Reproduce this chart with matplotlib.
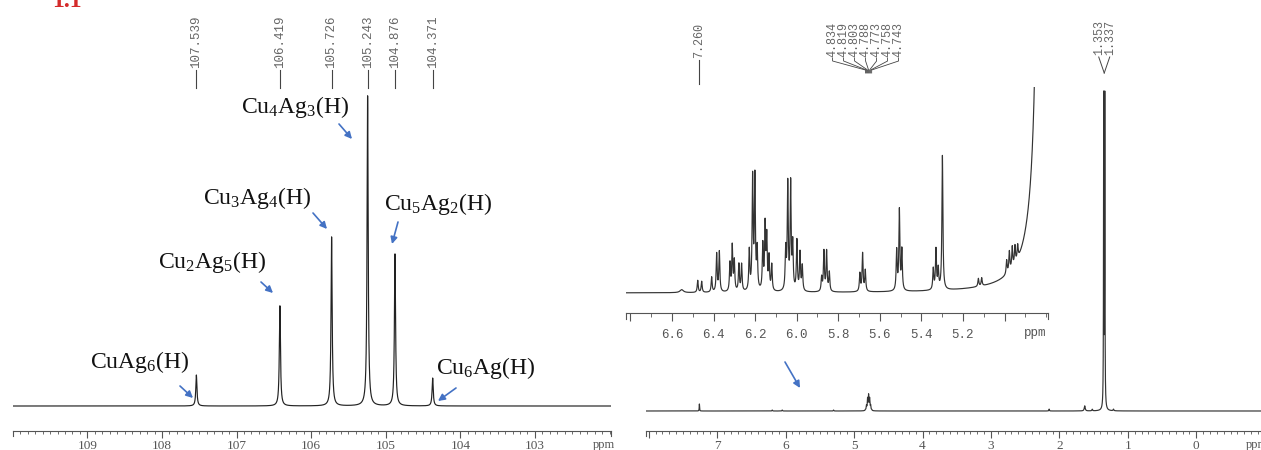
import numpy as np
import matplotlib
matplotlib.use("Agg")
import matplotlib.pyplot as plt
from matplotlib.ticker import FixedLocator, FixedFormatter, MultipleLocator
import matplotlib.transforms as mtrans

plt.rcParams['mathtext.fontset'] = 'custom'
plt.rcParams['mathtext.rm'] = 'Liberation Serif'
plt.rcParams['mathtext.it'] = 'Liberation Serif:italic'
plt.rcParams['mathtext.bf'] = 'Liberation Serif:bold'

# ------------------------------------------------------------------ data
panel_tag = "1.1"

# left spectrum (ppm, relative intensity)
left_ppm = [107.539, 106.419, 105.726, 105.243, 104.876, 104.371]
left_height = [10.0, 32.3, 54.5, 100.0, 49.0, 9.0]
left_hwhm = [0.009, 0.009, 0.009, 0.009, 0.009, 0.009]
left_peak_labels = ["107.539", "106.419", "105.726", "105.243", "104.876", "104.371"]
left_species = [r"CuAg$_{\mathrm{6}}$(H)", r"Cu$_{\mathrm{2}}$Ag$_{\mathrm{5}}$(H)",
                r"Cu$_{\mathrm{3}}$Ag$_{\mathrm{4}}$(H)", r"Cu$_{\mathrm{4}}$Ag$_{\mathrm{3}}$(H)",
                r"Cu$_{\mathrm{5}}$Ag$_{\mathrm{2}}$(H)", r"Cu$_{\mathrm{6}}$Ag(H)"]
left_ticks = [109, 108, 107, 106, 105, 104, 103]
left_tick_labels = ["109", "108", "107", "106", "105", "104", "103"]

# right spectrum, full range (ppm, relative intensity)
right_ppm = [7.260, 6.196, 6.050, 5.300,
             4.834, 4.819, 4.803, 4.788, 4.773, 4.758, 4.743,
             2.150, 1.630, 1.520, 1.353, 1.337, 1.210]
right_height = [2.2, 0.3, 0.3, 0.3,
                0.25, 1.5, 3.6, 4.6, 3.6, 1.5, 0.25,
                0.6, 1.6, 0.5, 97.0, 97.0, 0.5]
right_hwhm = [0.003, 0.004, 0.004, 0.004,
              0.005, 0.005, 0.005, 0.005, 0.005, 0.005, 0.005,
              0.004, 0.008, 0.006, 0.003, 0.003, 0.006]
right_ticks = [8, 7, 6, 5, 4, 3, 2, 1, 0]
right_tick_labels = ["", "7", "6", "5", "4", "3", "2", "1", "0"]
septet_labels = ["4.834", "4.819", "4.803", "4.788", "4.773", "4.758", "4.743"]
septet_ppm = [4.834, 4.819, 4.803, 4.788, 4.773, 4.758, 4.743]
doublet_labels = ["1.353", "1.337"]
doublet_ppm = [1.353, 1.337]
single_label = "7.260"
single_ppm = 7.260

# inset (expanded 4.8 - 6.8 ppm region), intensity in inset units
inset_ppm = [6.553, 6.476, 6.457, 6.409, 6.385, 6.372,
             6.321, 6.310, 6.300, 6.278, 6.265,
             6.228, 6.212, 6.201, 6.190,
             6.163, 6.152, 6.144, 6.133, 6.120,
             6.053, 6.043, 6.029, 6.019, 5.999, 5.984, 5.973,
             5.880, 5.869, 5.856, 5.843,
             5.696, 5.683, 5.670,
             5.519, 5.506, 5.494,
             5.343, 5.330, 5.319, 5.299,
             5.126, 5.110,
             4.990, 4.977, 4.963, 4.950, 4.937,
             4.834, 4.819, 4.803, 4.788, 4.773, 4.758, 4.743]
inset_height = [3, 12, 11, 15, 38, 40,
                28, 45, 30, 27, 27,
                40, 112, 112, 40,
                45, 64, 52, 33, 26,
                40, 106, 106, 45, 50, 38, 25,
                14, 40, 40, 19,
                18, 38, 21,
                40, 80, 40,
                21, 40, 20, 134,
                8, 8,
                14, 20, 21, 18, 14,
                1440, 8640, 21600, 28800, 21600, 8640, 1440]
inset_hwhm = [0.010] + [0.0028] * 54
inset_ticks = [6.8, 6.6, 6.4, 6.2, 6.0, 5.8, 5.6, 5.4, 5.2, 5.0]
inset_tick_labels = ["", "6.6", "6.4", "6.2", "6.0", "5.8", "5.6", "5.4", "5.2", ""]

# ------------------------------------------------------------------ helpers
W, H = 1261, 450
fig = plt.figure(figsize=(W / 100, H / 100), dpi=100)


def px_axes(x0, y0, x1, y1, **kw):
    return fig.add_axes([x0 / W, 1 - y1 / H, (x1 - x0) / W, (y1 - y0) / H], **kw)


def lorentz(x, centers, heights, widths):
    y = np.zeros_like(x)
    for c, h, w in zip(centers, heights, widths):
        y += h * w ** 2 / ((x - c) ** 2 + w ** 2)
    return y


RULER = '#555555'
LABEL = '#555555'


def ruler(ax, ticks, labels, minor_step, family, size, pad, majlen=5, minlen=2.5):
    for s in ['top', 'left', 'right']:
        ax.spines[s].set_visible(False)
    ax.spines['bottom'].set_color(RULER)
    ax.spines['bottom'].set_linewidth(0.8)
    ax.yaxis.set_visible(False)
    ax.set_facecolor('none')
    ax.xaxis.set_major_locator(FixedLocator(ticks))
    ax.xaxis.set_major_formatter(FixedFormatter(labels))
    ax.xaxis.set_minor_locator(MultipleLocator(minor_step))
    ax.tick_params(axis='x', which='major', direction='out', length=majlen, width=0.8,
                   color=RULER, labelsize=size, labelcolor=LABEL, pad=pad,
                   labelfontfamily=family)
    ax.tick_params(axis='x', which='minor', direction='out', length=minlen, width=0.6,
                   color=RULER)


# ------------------------------------------------------------------ axes
ax_l = px_axes(12.8, 60, 611, 431)
ax_r = px_axes(646, 60, 1262, 431)
ax_i = px_axes(626, 87, 1048, 313)
ov = fig.add_axes([0, 0, 1, 1], zorder=10)
ov.set_xlim(0, W)
ov.set_ylim(H, 0)
ov.axis('off')
ov.patch.set_alpha(0)

# left spectrum
xl = np.linspace(110.0, 101.98, 16041)
ax_l.plot(xl, lorentz(xl, left_ppm, left_height, left_hwhm), color='#222222', lw=0.85)
ax_l.set_xlim(110.0, 101.98)
ax_l.set_ylim(-8.06, 111.6)
ruler(ax_l, left_ticks, left_tick_labels, 0.1, 'Liberation Serif', 9.5, 1.8)

# right spectrum
xr = np.linspace(8.04, -0.96, 36001)
ax_r.plot(xr, lorentz(xr, right_ppm, right_height, right_hwhm), color='#333333', lw=0.85)
ax_r.set_xlim(8.04, -0.96)
ax_r.set_ylim(-6.27, 110.0)
ruler(ax_r, right_ticks, right_tick_labels, 0.1, 'Liberation Serif', 9.5, 1.8)

# inset
xi = np.linspace(6.821, 4.791, 8121)
ax_i.plot(xi, lorentz(xi, inset_ppm, inset_height, inset_hwhm), color='#333333', lw=0.85)
ax_i.set_xlim(6.821, 4.791)
ax_i.set_ylim(-20, 206)
ruler(ax_i, inset_ticks, inset_tick_labels, 0.1, 'Liberation Mono', 9, 5.6, majlen=6, minlen=3)


# end caps of the rulers
def caps(ax, which=(0, 1), length=5):
    b = ax.get_position()
    y = (1 - b.y0) * H
    for f in which:
        x = (b.x0 + f * b.width) * W
        ov.plot([x, x], [y, y + length], color=RULER, lw=0.8)


caps(ax_l)
caps(ax_r, which=(0,))
caps(ax_i, length=6)

ov.text(604, 445, "ppm", ha='center', va='center', fontsize=9, family='Liberation Serif', color=LABEL)
ov.text(1257, 445, "ppm", ha='center', va='center', fontsize=9, family='Liberation Serif', color=LABEL)
ov.text(1035, 333, "ppm", ha='center', va='center', fontsize=9, family='Liberation Mono', color=LABEL)

# panel tag
ov.text(67, 7, panel_tag, ha='center', va='baseline', fontsize=17, fontweight='bold',
        family='Liberation Serif', color='#d42a2a')

# top peak labels -- left
tl = mtrans.blended_transform_factory(ax_l.transData, ov.transData)
for p, lab in zip(left_ppm, left_peak_labels):
    ov.text(p, 68, lab, rotation=90, ha='center', va='bottom', fontsize=9,
            family='Liberation Mono', color='#666666', transform=tl)
    ov.plot([p, p], [70, 88], color='#444444', lw=0.8, transform=tl)

# top peak labels -- right
tr = mtrans.blended_transform_factory(ax_r.transData, ov.transData)
ov.text(single_ppm, 58, single_label, rotation=90, ha='center', va='bottom', fontsize=8.5,
        family='Liberation Mono', color='#666666', transform=tr)
ov.plot([single_ppm, single_ppm], [60, 84], color='#444444', lw=0.8, transform=tr)


def to_px(ax, ppm):
    return ax.transData.transform((ppm, 0))[0]


sep_center = to_px(ax_r, septet_ppm[3]) - 3
for i, (p, lab) in enumerate(zip(septet_ppm, septet_labels)):
    lx = sep_center + (i - 3) * 11
    ov.text(lx, 57, lab, rotation=90, ha='center', va='bottom', fontsize=8.5,
            family='Liberation Mono', color='#666666')
    px = to_px(ax_r, p)
    ov.plot([lx, lx, px, px], [58, 61, 70, 73], color='#444444', lw=0.6)

dbl_center = to_px(ax_r, 1.345)
for i, (p, lab) in enumerate(zip(doublet_ppm, doublet_labels)):
    lx = dbl_center + (i - 0.5) * 11
    ov.text(lx, 55, lab, rotation=90, ha='center', va='bottom', fontsize=8.5,
            family='Liberation Mono', color='#666666')
    ov.plot([lx, dbl_center], [57, 73], color='#444444', lw=0.7)

# species labels with arrows
ARROW = '#4472C4'
species_text_xy = [(140, 362), (212, 262), (257, 198), (295, 107), (438, 204), (486, 368)]
species_arrow = [((180, 386), (193, 398)), ((261, 282), (273, 293)), ((313, 213), (327, 229)),
                 ((339, 124), (352, 139)), ((398, 222), (392, 244)), ((456, 388), (438, 401))]
for lab, (tx, ty), (a0, a1) in zip(left_species, species_text_xy, species_arrow):
    ov.text(tx, ty, lab, ha='center', va='center', fontsize=17, family='Liberation Serif',
            color='#111111')
    ov.annotate('', xy=a1, xytext=a0,
                arrowprops=dict(arrowstyle='-|>', color=ARROW, lw=1.2, mutation_scale=10,
                                shrinkA=0, shrinkB=0))

ov.annotate('', xy=(800, 388), xytext=(785, 362),
            arrowprops=dict(arrowstyle='-|>', color=ARROW, lw=1.2, mutation_scale=10,
                            shrinkA=0, shrinkB=0))

fig.savefig("out.png", dpi=100)
